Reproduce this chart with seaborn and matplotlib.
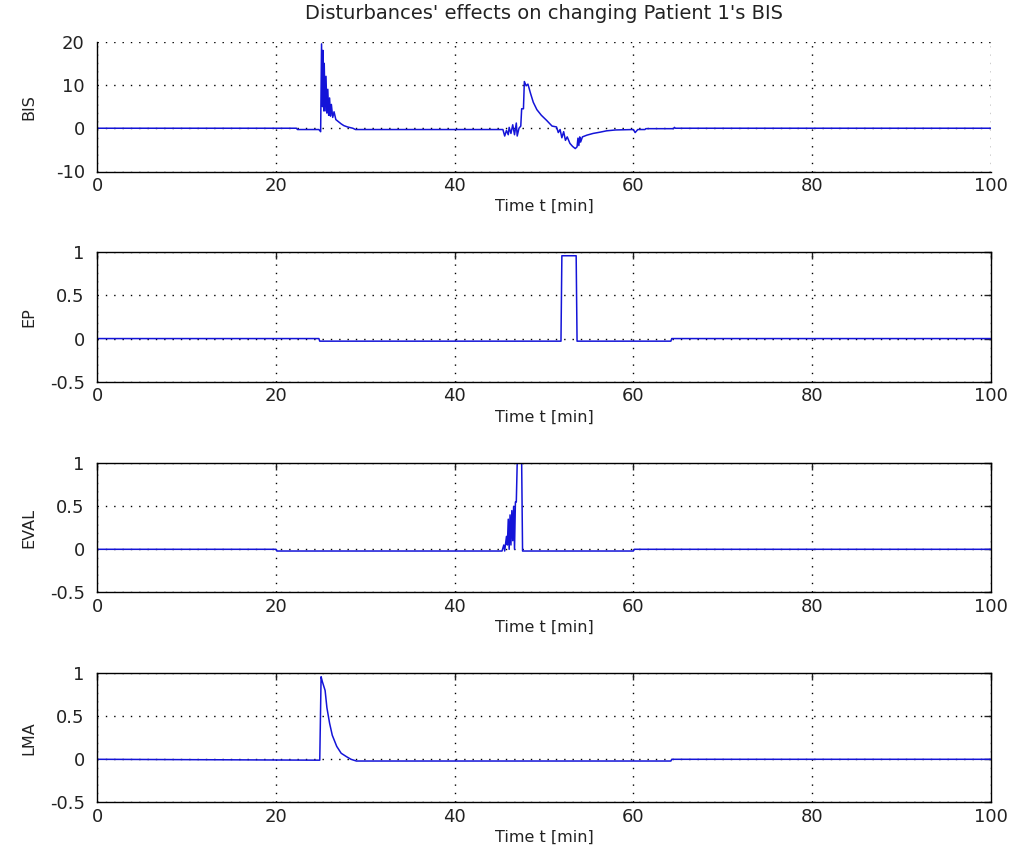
import matplotlib
matplotlib.use("Agg")
import matplotlib.pyplot as plt
import numpy as np
import pandas as pd
import seaborn as sns

sns.set_style("white")
plt.rcParams["font.family"] = ["DejaVu Sans"]

# ---- signal traces: (time [min], value) breakpoints ----
bis_t = [0, 22.3, 22.4, 24.8, 25.0, 25.1, 25.2, 25.25, 25.35, 25.4, 25.5, 25.6, 25.7, 25.8,
         25.9, 26.0, 26.1, 26.2, 26.35, 26.5, 26.7, 27.0, 27.3, 27.6, 28.0, 28.6, 28.9,
         45.4, 45.6, 45.8, 46.0, 46.1, 46.3, 46.5, 46.7, 46.9, 47.0, 47.2, 47.4, 47.5, 47.7,
         47.8, 48.0, 48.2, 48.5, 48.8, 49.2, 49.7, 50.3, 50.9, 51.4, 51.6, 51.8, 52.0, 52.2,
         52.4, 52.6, 52.9, 53.2, 53.5, 53.7, 53.8, 53.9, 54.0, 54.1, 54.3, 54.8, 55.5, 56.3,
         57.0, 58.0, 60.0, 60.2, 60.5, 61.3, 61.4, 64.5, 64.6, 64.7, 100]
bis_v = [0, 0, -0.3, -0.3, -0.8, 19.5, 5, 18, 4, 15, 4, 12, 3.5, 9,
         3, 7, 2.8, 5.5, 2.5, 3.8, 2, 1.5, 1, 0.6, 0.3, 0, -0.3,
         -0.3, -1.8, -0.5, -1.5, 0.2, -1.2, 0.8, -1.5, 1.2, -1.8, 0, 0.5, 4.5, 4.5,
         10.8, 9.8, 10.2, 8, 6, 4.3, 3, 1.8, 0.5, 0.3, -1, -0.3, -2.2, -0.8,
         -2.8, -2, -3.5, -4.2, -4.7, -4.3, -2.3, -4, -2, -3.2, -2, -1.6, -1.2, -0.9,
         -0.6, -0.4, -0.3, -1.0, -0.3, -0.3, -0.1, -0.1, 0.2, 0, 0]

ep_t = [0, 24.8, 24.9, 51.9, 52.0, 53.6, 53.7, 64.2, 64.3, 100]
ep_v = [0, 0, -0.03, -0.03, 0.96, 0.96, -0.03, -0.03, 0, 0]

eval_t = [0, 20.0, 20.1, 45.3, 45.5, 45.6, 45.8, 45.9, 46.0, 46.1, 46.2, 46.3, 46.4, 46.5,
          46.6, 46.7, 46.8, 46.9, 47.0, 47.5, 47.6, 60.0, 60.1, 100]
eval_v = [0, 0, -0.02, -0.02, 0.05, -0.02, 0.15, 0.05, 0.35, 0.0, 0.4, 0.05, 0.45, 0.1,
          0.5, 0.0, 0.55, 0.55, 1.0, 1.0, -0.02, -0.02, 0, 0]

lma_t = [0, 24.9, 25.05, 25.2, 25.5, 25.7, 26.0, 26.3, 26.8, 27.3, 27.9, 28.4, 29.0, 64.2, 64.3, 100]
lma_v = [0, -0.01, 0.96, 0.9, 0.8, 0.6, 0.42, 0.28, 0.15, 0.07, 0.03, 0.0, -0.02, -0.02, 0, 0]

panels = [
    ("BIS", bis_t, bis_v, (-10, 20), [-10, 0, 10, 20], ["-10", "0", "10", "20"]),
    ("EP", ep_t, ep_v, (-0.5, 1), [-0.5, 0, 0.5, 1], ["-0.5", "0", "0.5", "1"]),
    ("EVAL", eval_t, eval_v, (-0.5, 1), [-0.5, 0, 0.5, 1], ["-0.5", "0", "0.5", "1"]),
    ("LMA", lma_t, lma_v, (-0.5, 1), [-0.5, 0, 0.5, 1], ["-0.5", "0", "0.5", "1"]),
]
x_ticks = [0, 20, 40, 60, 80, 100]
title = "Disturbances' effects on changing Patient 1's BIS"

W, H = 1014, 865
fig = plt.figure(figsize=(W / 100, H / 100), dpi=100)

left, right = 97.3, 990.7
boxes = [(41.7, 171.5), (252.3, 381.7), (463.3, 592.3), (673.3, 802.3)]
ink = "#222222"

for i, ((name, t, v, ylim, yt, ytl), (top, bot)) in enumerate(zip(panels, boxes)):
    ax = fig.add_axes([left / W, (H - bot) / H, (right - left) / W, (bot - top) / H])
    df = pd.DataFrame({"t": t, "v": v})
    sns.lineplot(data=df, x="t", y="v", ax=ax, color="#1414d8", linewidth=1.1,
                 estimator=None, sort=False)
    ax.set_xlim(0, 100)
    ax.set_ylim(*ylim)
    ax.set_xticks(x_ticks)
    ax.set_xticklabels([str(x) for x in x_ticks])
    ax.set_yticks(yt)
    ax.set_yticklabels(ytl)
    ax.grid(True, color="black", linestyle=(0, (1, 5)), linewidth=1.0)
    box_on = i > 0
    for side in ("top", "right"):
        ax.spines[side].set_visible(box_on)
    for s in ax.spines.values():
        s.set_color("black")
        s.set_linewidth(1.0)
    ax.tick_params(direction="in", length=5, width=1, colors=ink, labelsize=13,
                   top=box_on, right=box_on)
    ax.tick_params(axis="y", pad=9)
    ax.tick_params(axis="x", pad=4)
    ax.set_xlabel("Time t [min]", fontsize=11.5, labelpad=3, color=ink)
    ax.set_ylabel(name, fontsize=11.5, color=ink)
    ax.yaxis.set_label_coords((36 - left) / (right - left), 0.5)
    if i == 0:
        ax.set_title(title, fontsize=14, pad=16, color=ink)

fig.savefig("out.png", dpi=100, facecolor="white")
